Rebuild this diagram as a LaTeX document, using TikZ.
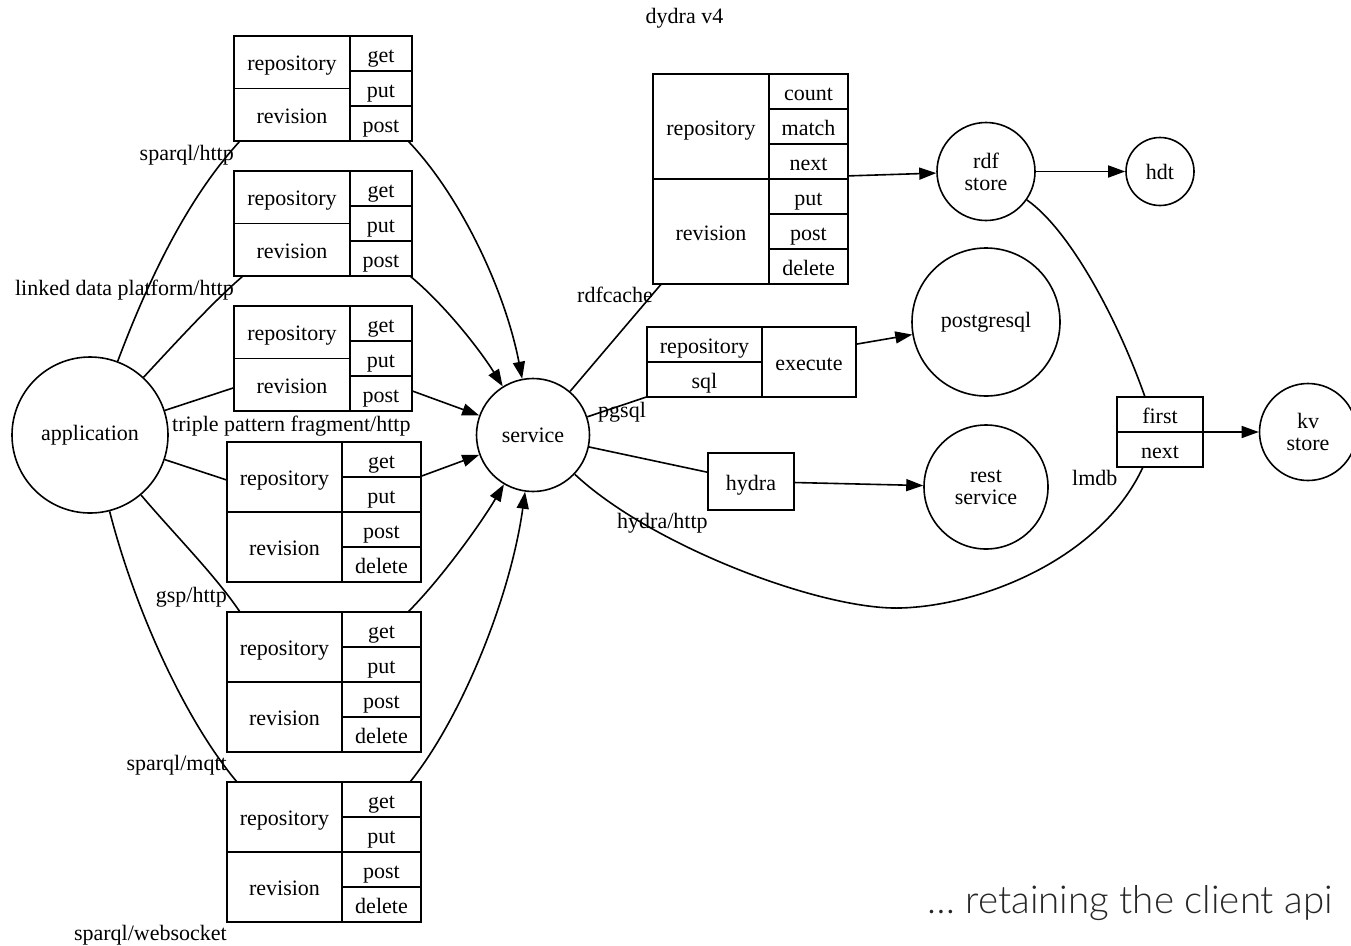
\documentclass[tikz,border=0pt]{standalone}
\usepackage{fontspec}
\setmainfont{Liberation Serif}
\IfFontExistsTF{Lato Light}{\newfontfamily\capfont{Lato Light}}{\newfontfamily\capfont{Lato}}
\usetikzlibrary{arrows.meta,calc}
\newcommand\dfont{\fontsize{22}{22}\selectfont}
\tikzset{
  cell/.style={draw, rectangle, line width=1.6pt, inner sep=0pt, outer sep=0pt, anchor=north west, text height=18pt, text depth=1pt, font=\dfont},
  frame/.style={draw, rectangle, line width=1.6pt, inner sep=0pt, outer sep=0pt, anchor=north west},
  blob/.style={draw, circle, line width=1.6pt, inner sep=0pt, align=center, font=\dfont},
  lbl/.style={font=\dfont, inner sep=0pt},
  link/.style={line width=1.6pt},
  arr/.style={line width=1.6pt, -{Triangle[length=17pt,width=12pt]}},
}
% three-method record: name, left x, top y
\newcommand\recthree[3]{%
  \node[frame, minimum width=178pt, minimum height=105pt] (#1) at (#2,#3) {};
  \node[cell, minimum width=116pt, minimum height=52.5pt] (#1-repo) at (#2,#3) {repository};
  \node[cell, minimum width=116pt, minimum height=52.5pt] (#1-rev) at (#2,{#3+52.5}) {revision};
  \node[cell, minimum width=62pt, minimum height=35pt] (#1-get) at ({#2+116},#3) {get};
  \node[cell, minimum width=62pt, minimum height=35pt] (#1-put) at ({#2+116},{#3+35}) {put};
  \node[cell, minimum width=62pt, minimum height=35pt] (#1-post) at ({#2+116},{#3+70}) {post};
}
% four-method record: name, left x, top y
\newcommand\recfour[3]{%
  \node[frame, minimum width=194pt, minimum height=140pt] (#1) at (#2,#3) {};
  \node[cell, minimum width=115pt, minimum height=70pt] (#1-repo) at (#2,#3) {repository};
  \node[cell, minimum width=115pt, minimum height=70pt] (#1-rev) at (#2,{#3+70}) {revision};
  \node[cell, minimum width=79pt, minimum height=35pt] (#1-get) at ({#2+115},#3) {get};
  \node[cell, minimum width=79pt, minimum height=35pt] (#1-put) at ({#2+115},{#3+35}) {put};
  \node[cell, minimum width=79pt, minimum height=35pt] (#1-post) at ({#2+115},{#3+70}) {post};
  \node[cell, minimum width=79pt, minimum height=35pt] (#1-del) at ({#2+115},{#3+105}) {delete};
}
\begin{document}
\begin{tikzpicture}[x=1pt,y=-1pt]
\fill[white] (0,0) rectangle (1351,945);
\useasboundingbox (0,0) rectangle (1351,945);

% circles
\node[blob, minimum size=156pt] (app) at (90,435) {application};
\node[blob, minimum size=113pt] (svc) at (533,435) {service};
\node[blob, minimum size=98pt] (rdf) at (986,171.5) {rdf\\store};
\node[blob, minimum size=68pt] (hdt) at (1160,171.5) {hdt};
\node[blob, minimum size=148pt] (pq) at (986,322) {postgresql};
\node[blob, minimum size=124pt] (rest) at (986,487) {rest\\service};
\node[blob, minimum size=97pt] (kv) at (1308,432) {kv\\store};

% client records
\recthree{b1}{234}{36}
\recthree{b2}{234}{171}
\recthree{b3}{234}{306}
\recfour{b4}{227}{442}
\recfour{b5}{227}{612}
\recfour{b6}{227}{782}

% rdfcache record
\node[frame, minimum width=195pt, minimum height=210pt] (rc) at (653,74) {};
\node[cell, minimum width=116pt, minimum height=105pt] (rc-repo) at (653,74) {repository};
\node[cell, minimum width=116pt, minimum height=105pt] (rc-rev) at (653,179) {revision};
\node[cell, minimum width=79pt, minimum height=35pt] (rc-count) at (769,74) {count};
\node[cell, minimum width=79pt, minimum height=35pt] (rc-match) at (769,109) {match};
\node[cell, minimum width=79pt, minimum height=35pt] (rc-next) at (769,144) {next};
\node[cell, minimum width=79pt, minimum height=35pt] (rc-put) at (769,179) {put};
\node[cell, minimum width=79pt, minimum height=35pt] (rc-post) at (769,214) {post};
\node[cell, minimum width=79pt, minimum height=35pt] (rc-del) at (769,249) {delete};

% pgsql record
\node[frame, minimum width=209pt, minimum height=70pt] (pg) at (647,327) {};
\node[cell, minimum width=115pt, minimum height=35pt] (pg-repo) at (647,327) {repository};
\node[cell, minimum width=115pt, minimum height=35pt] (pg-sql) at (647,362) {sql};
\node[cell, minimum width=94pt, minimum height=70pt] (pg-exec) at (762,327) {execute};

% hydra
\node[cell, minimum width=86pt, minimum height=57pt] (hy) at (708,453) {hydra};

% lmdb record
\node[frame, minimum width=86pt, minimum height=70pt] (lm) at (1117,397) {};
\node[cell, minimum width=86pt, minimum height=35pt] (lm-first) at (1117,397) {first};
\node[cell, minimum width=86pt, minimum height=35pt] (lm-next) at (1117,432) {next};

% application -> records -> service
\draw[link] (app) .. controls (155,262) and (195,190) .. ($(b1.south west)+(6,0)$);
\draw[arr] ($(b1.south east)+(-4,0)$) .. controls (460,195) and (505,290) .. (svc);
\draw[link] (app) .. controls (180,338) and (215,300) .. ($(b2.south west)+(9,0)$);
\draw[arr] ($(b2.south east)+(-2,0)$) .. controls (445,305) and (480,350) .. (svc);
\draw[link] (app) -- (b3);
\draw[arr] (b3) -- (svc);
\draw[link] (app) -- (b4);
\draw[arr] (b4) -- (svc);
\draw[link] (app) .. controls (175,535) and (215,575) .. ($(b5.north west)+(13,0)$);
\draw[arr] ($(b5.north east)+(-13,0)$) .. controls (440,580) and (480,525) .. (svc);
\draw[link] (app) .. controls (135,610) and (185,720) .. ($(b6.north west)+(10,0)$);
\draw[arr] ($(b6.north east)+(-11,0)$) .. controls (460,720) and (510,600) .. (svc);

% service -> back ends
\draw[link] (svc) -- (rc);
\draw[link] (svc) -- (pg);
\draw[link] (svc) -- (hy);
\draw[link] (svc) .. controls (650,545) and (820,610) .. (900,608) .. controls (980,606) and (1100,560) .. ($(lm.south west)+(26,0)$);
\draw[arr] (rc) -- (rdf);
\draw[arr] (rdf) -- (hdt);
\draw[link] (rdf) .. controls (1070,230) and (1118,320) .. ($(lm.north west)+(28,0)$);
\draw[arr] (pg) -- (pq);
\draw[arr] (hy) -- (rest);
\draw[arr] (lm) -- (kv);

% labels
\node[lbl, anchor=base] (title) at (684.5,23) {dydra v4};
\node[lbl, anchor=base east] (l1) at (234,160) {sparql/http};
\node[lbl, anchor=base east] (l2) at (234,295) {linked data platform/http};
\node[lbl, anchor=base west] (l3) at (172,431) {triple pattern fragment/http};
\node[lbl, anchor=base east] (l4) at (227,602) {gsp/http};
\node[lbl, anchor=base east] (l5) at (227,770) {sparql/mqtt};
\node[lbl, anchor=base east] (l6) at (227,940) {sparql/websocket};
\node[lbl, anchor=base west] (l7) at (577,302) {rdfcache};
\node[lbl, anchor=base west] (l8) at (598,417) {pgsql};
\node[lbl, anchor=base west] (l9) at (617,528) {hydra/http};
\node[lbl, anchor=base west] (l10) at (1072,485) {lmdb};

\node[anchor=base east, inner sep=0pt, text=black!85, font=\capfont\fontsize{38.5}{38.5}\selectfont] (cap) at (1333,913) {… retaining the client api};
\end{tikzpicture}
\end{document}
